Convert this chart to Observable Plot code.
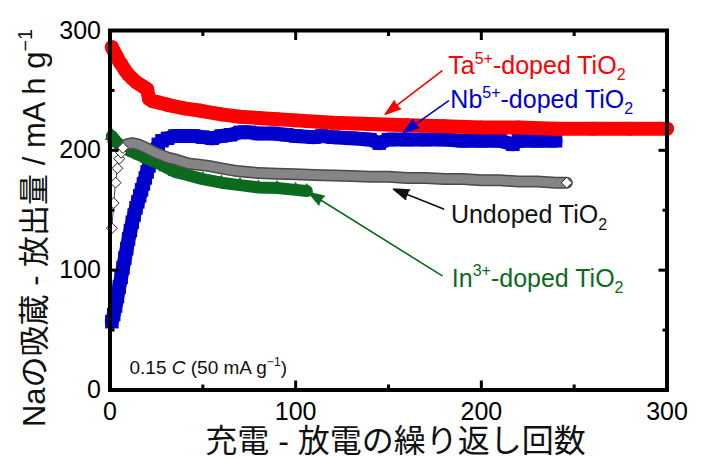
<!DOCTYPE html>
<html><head><meta charset="utf-8">
<script src="https://cdn.jsdelivr.net/npm/d3@7"></script>
<script src="https://cdn.jsdelivr.net/npm/@observablehq/plot@0.6"></script>
<style>html,body{margin:0;padding:0;background:#fff;}#chart{width:702px;height:460px;}</style>
</head><body><div id="chart"></div>
<script>
// ---- data (cycle number, capacity mA h g^-1) ----
const taCycle = [1,2,3,4,5,6,8,10,12,14,16,18,20,21,23,26,31,40,49,60,70,80,90,100,120,140,160,180,200,220,240,260,280,300];
const taCap   = [286,283,280,277,274,272,267,263,260,257,255,253,251,243,241,240,238,235,233,230,228,227,226,225,223,222,221,220,219,219,218,218,218,218];

const nbCycle = [1,2,3,4,5,6,7,8,9,10,11,12,13,14,15,16,17,18,19,20,21,22,23,24,26,28,31,35,40,45,50,55,60,65,70,75,80,88,95,100,110,114,120,130,140,145,150,160,170,180,190,200,210,217,220,230,240];
const nbCap   = [57,63,70,78,86,94,102,110,118,126,133,140,146,152,157,162,167,172,177,182,187,192,196,200,205,208,210,212,212,212,211,210,212,213,215,215,214,214,213,212,211,212,211,210,209,206,209,209,209,209,208,208,208,205,208,208,208];

const unCycle = [1,2,3,4,5,6,7,9,12,15,18,22,26,31,36,42,48,53,60,67,74,80,90,100,110,120,130,140,150,160,170,180,190,200,210,220,230,240,246];
const unCap   = [135,156,173,185,193,198,202,205,206,205,203,200,197,194,192,189,188,187,185,183,182,181,180.5,180,179.5,179,178.5,178,178,177,177,176,176,175,175,174,174,173,173];

const inCycle = [1,2,3,4,6,8,10,13,16,20,25,30,35,40,50,60,70,80,90,100,106];
const inCap   = [212,210,208,206,204,202,200,198,196,193,190,186,182,180,176,173,171,169,168.5,167,166];

const xMajor = [100,200], xMinor = [50,150,250];
const yMajor = [100,200], yMinor = [50,150,250];
const tickValues = [0,100,200,300];

const seriesNames = ["Ta^{5+}-doped TiO_{2}", "Nb^{5+}-doped TiO_{2}", "Undoped TiO_{2}", "In^{3+}-doped TiO_{2}"];
// label anchors (cycle, capacity) and arrow tail/tip in data units
const labelAt = [[182.2,263.5],[183.3,235.2],[183.6,139],[184.1,86.25]];
const arrowAt = [[178.8,266.3,148.3,230.2],[182.3,241.3,158.1,214.8],[179.7,151,152.7,167.7],[178.8,95.4,107,164.8]];
const rateNote = "0.15 *C* (50 mA g^{−1})";
const rateAt = [10.5,13.75];
const xTitle = "充電 - 放電の繰り返し回数";
const yTitle = "Naの吸蔵 - 放出量 / mA h g^{−1}";

// ---- styles ----
const RED = "#ff0000", BLUE = "#0000cc", GREEN = "#0b6a1e", BLACK = "#111111";
const colors = [RED, BLUE, BLACK, GREEN];
const FONT = "'Liberation Sans', Arial, 'Noto Sans CJK JP', sans-serif";

const zip = (xs, ys) => xs.map((x, i) => ({x, y: ys[i], i}));
const ta = zip(taCycle, taCap), nb = zip(nbCycle, nbCap), un = zip(unCycle, unCap), ind = zip(inCycle, inCap);
const unEarly = un.filter(d => d.x <= 9), unBand = un.filter(d => d.x >= 9);
const unWhite = un.filter(d => d.x <= 7 || d.i === un.length - 1);

const labelMarks = seriesNames.map((t, k) => Plot.text([{x: labelAt[k][0], y: labelAt[k][1], t}], {
  x: "x", y: "y", text: "t", fill: colors[k], fontSize: 25, textAnchor: "start", lineAnchor: "bottom", fontFamily: FONT
}));
const arrowMarks = arrowAt.map((a, k) => Plot.arrow([{x1: a[0], y1: a[1], x2: a[2], y2: a[3]}], {
  x1: "x1", y1: "y1", x2: "x2", y2: "y2", stroke: colors[k], fill: colors[k], strokeWidth: 1.6, headLength: 15, headAngle: 36
}));

const chart = Plot.plot({
  width: 702, height: 460,
  marginLeft: 109.5, marginRight: 35.5, marginTop: 30, marginBottom: 70.5,
  x: {domain: [0, 300]},
  y: {domain: [0, 300]},
  style: {fontFamily: FONT, background: "white", overflow: "visible", color: "black"},
  marks: [
    // Nb
    Plot.line(nb, {x: "x", y: "y", stroke: BLUE, strokeWidth: 14, strokeLinejoin: "round"}),
    Plot.dot(nb, {x: "x", y: "y", symbol: "square", r: 7.6, fill: BLUE}),
    // In
    Plot.line(ind, {x: "x", y: "y", stroke: GREEN, strokeWidth: 12, strokeLinejoin: "round"}),
    Plot.dot(ind, {x: "x", y: "y", symbol: "triangle", r: 5.2, fill: GREEN}),
    // Undoped
    Plot.line(unEarly, {x: "x", y: "y", stroke: "#444", strokeWidth: 1}),
    Plot.line(unBand, {x: "x", y: "y", stroke: "#4a4a4a", strokeWidth: 12, strokeLinejoin: "round"}),
    Plot.line(unBand, {x: "x", y: "y", stroke: "#858585", strokeWidth: 9, strokeLinejoin: "round"}),
    Plot.dot(unWhite, {x: "x", y: "y", symbol: "diamond2", r: 4.9, fill: "white", stroke: "#222", strokeWidth: 1}),
    // Ta
    Plot.line(ta, {x: "x", y: "y", stroke: RED, strokeWidth: 14, strokeLinecap: "round", strokeLinejoin: "round"}),
    Plot.dot(ta, {x: "x", y: "y", r: 7, fill: RED}),
    // frame & inward ticks
    Plot.frame({stroke: "black", strokeWidth: 4}),
    Plot.axisX(xMajor, {anchor: "bottom", tickSize: -9, strokeWidth: 3, fill: "none", label: null}),
    Plot.axisX(xMinor, {anchor: "bottom", tickSize: -5, strokeWidth: 3, fill: "none", label: null}),
    Plot.axisX(xMajor, {anchor: "top", tickSize: -9, strokeWidth: 3, fill: "none", label: null}),
    Plot.axisX(xMinor, {anchor: "top", tickSize: -5, strokeWidth: 3, fill: "none", label: null}),
    Plot.axisY(yMajor, {anchor: "left", tickSize: -9, strokeWidth: 3, fill: "none", label: null}),
    Plot.axisY(yMinor, {anchor: "left", tickSize: -5, strokeWidth: 3, fill: "none", label: null}),
    Plot.axisY(yMajor, {anchor: "right", tickSize: -9, strokeWidth: 3, fill: "none", label: null}),
    Plot.axisY(yMinor, {anchor: "right", tickSize: -5, strokeWidth: 3, fill: "none", label: null}),
    Plot.axisX(tickValues, {anchor: "bottom", tickSize: 0, tickPadding: 12, fontSize: 25, label: null}),
    Plot.axisY(tickValues, {anchor: "left", tickSize: 0, tickPadding: 9, fontSize: 25, label: null}),
    // annotations
    ...arrowMarks,
    ...labelMarks,
    Plot.text([{x: rateAt[0], y: rateAt[1], t: rateNote}], {x: "x", y: "y", text: "t", fontSize: 19, textAnchor: "start", lineAnchor: "bottom", fill: BLACK}),
    Plot.text([xTitle], {frameAnchor: "bottom", text: d => d, fontSize: 32, textAnchor: "middle", dx: 7, dy: 62, lineAnchor: "bottom", fill: BLACK}),
    Plot.text([yTitle], {frameAnchor: "left", text: d => d, fontSize: 31, rotate: -90, textAnchor: "middle", dx: -74.5, dy: 17.75, lineAnchor: "middle", fill: BLACK})
  ]
});
document.getElementById("chart").appendChild(chart);

// rich text: ^{sup}, _{sub}, *italic*
function richify(svg) {
  const NS = "http://www.w3.org/2000/svg";
  svg.querySelectorAll("text").forEach(t => {
    const s = t.textContent;
    if (!/(\^\{|_\{|\*)/.test(s)) return;
    const fs = parseFloat(getComputedStyle(t).fontSize) || 16;
    const parts = s.split(/(\^\{[^}]*\}|_\{[^}]*\}|\*[^*]*\*)/g).filter(p => p !== "");
    t.textContent = "";
    let shift = 0;
    for (const p of parts) {
      const ts = document.createElementNS(NS, "tspan");
      let target = 0, txt = p;
      if (p.startsWith("^{")) { target = -0.42 * fs; txt = p.slice(2, -1); ts.setAttribute("font-size", 0.64 * fs); }
      else if (p.startsWith("_{")) { target = 0.25 * fs; txt = p.slice(2, -1); ts.setAttribute("font-size", 0.64 * fs); }
      else if (p.startsWith("*") && p.endsWith("*") && p.length > 1) { txt = p.slice(1, -1); ts.setAttribute("font-style", "italic"); }
      if (target !== shift) ts.setAttribute("dy", target - shift);
      shift = target;
      ts.textContent = txt;
      t.appendChild(ts);
    }
  });
}
richify(chart);
</script></body></html>
